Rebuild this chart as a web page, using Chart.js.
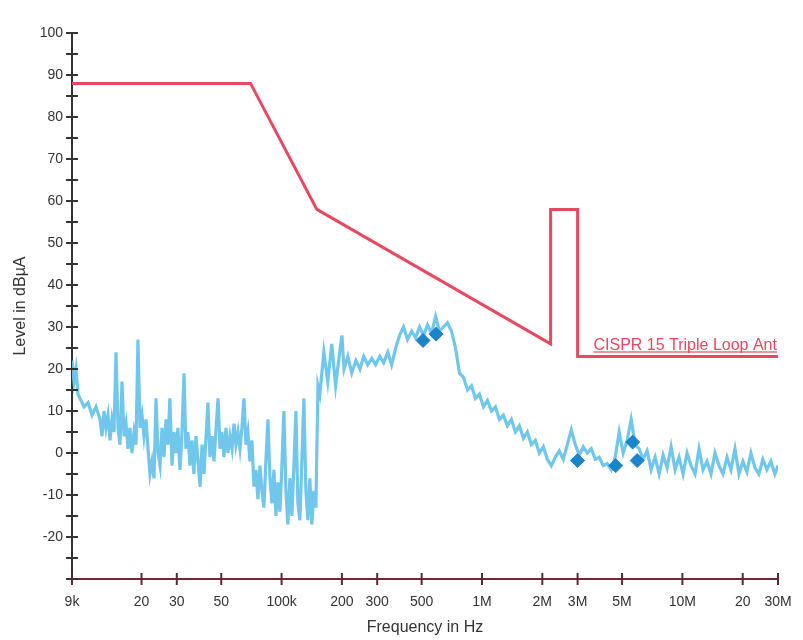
<!DOCTYPE html>
<html>
<head>
<meta charset="utf-8">
<script src="https://cdn.jsdelivr.net/npm/chart.js@4/dist/chart.umd.min.js"></script>
<style>
  html, body { margin: 0; padding: 0; background: #fff; }
  #wrap { width: 803px; height: 640px; }
</style>
</head>
<body>
<div id="wrap"><canvas id="emiChart" width="803" height="640"></canvas></div>
<script>

// x axis ticks (kHz)
let xTickValues = [9, 20, 30, 50, 100, 200, 300, 500, 1000, 2000, 3000, 5000, 10000, 20000, 30000];
let xTickLabels = ['9k', '20', '30', '50', '100k', '200', '300', '500', '1M', '2M', '3M', '5M', '10M', '20', '30M'];

// CISPR 15 limit (kHz / dBuA)
let limitFreq = [9, 70, 150, 2200, 2200, 3000, 3000, 30000];
let limitLevel = [88, 88, 58, 26, 58, 58, 23, 23];
let limitName = 'CISPR 15 Triple Loop Ant';

// measured trace (kHz / dBuA)
let traceFreq = [
  9, 9.21, 9.42, 9.64, 9.87, 10.33, 10.82, 11.33, 11.86, 12.42,
  12.71, 13.0, 13.3, 13.61, 13.93, 14.25, 14.58, 14.92, 15.27, 15.62,
  15.98, 16.36, 16.74, 17.13, 17.52, 17.93, 18.35, 18.78, 19.2, 19.66,
  20.12, 20.58, 21.06, 21.55, 22.05, 22.57, 23.09, 23.63, 24.18, 24.74,
  25.31, 25.9, 26.5, 27.12, 27.7, 28.4, 29.05, 29.7, 30.4, 31.1,
  31.8, 32.6, 33.3, 34.1, 34.9, 35.7, 36.5, 37.4, 38.3, 39.2,
  40.1, 41.0, 42.0, 42.9, 43.9, 45.0, 46.0, 47.1, 48.2, 49.3,
  50.4, 51.6, 52.8, 54.0, 55.3, 56.6, 57.9, 59.2, 60.6, 62.0,
  63.4, 64.9, 66.4, 67.9, 69.5, 71.1, 72.8, 74.5, 76.2, 78.0,
  79.8, 81.6, 83.5, 85.5, 87.5, 89.5, 91.6, 93.7, 95.9, 98.1,
  100.4, 102.7, 105.1, 107.5, 110.0, 112.6, 115.2, 117.9, 120.6, 123.4,
  126.2, 129.2, 132.2, 135.3, 138.4, 141.6, 144.9, 148.3, 151.9, 155.2,
  162.5, 170, 178, 186, 195, 200, 205, 214, 224, 235,
  246, 257, 269, 282, 295, 309, 323, 339, 354, 371,
  388, 406, 425, 446, 466, 488, 511, 535, 560, 587,
  614, 643, 673, 705, 738, 772, 809, 847, 886, 928,
  971, 1017, 1065, 1115, 1167, 1222, 1279, 1339, 1402, 1468,
  1537, 1609, 1684, 1763, 1846, 1933, 2024, 2119, 2218, 2322,
  2431, 2545, 2665, 2790, 2921, 3058, 3201, 3352, 3509, 3674,
  3846, 4027, 4216, 4413, 4621, 4838, 5065, 5302, 5551, 5812,
  6085, 6370, 6669, 6982, 7310, 7653, 8012, 8388, 8782, 9194,
  9625, 10077, 10550, 11045, 11563, 12106, 12674, 13269, 13892, 14544,
  15226, 15941, 16689, 17472, 18292, 19150, 20049, 20990, 21975, 23006,
  24086, 25216, 26400, 27638, 28935, 30000
];
let traceLevel = [
  22, 17, 20, 14, 13, 11, 12, 9, 11, 8,
  4, 10, 6, 9, 3, 8, 5, 24, 6, 2,
  17, 4, 7, 1, 6, 0, 5, 2, 27, 6,
  9, 4, 8, 1, -5, -2, -6, 13, 0, -3,
  6, -1, 8, 2, 13, -3, 5, 0, 6, -4,
  4, 19, 1, 5, -3, 3, -5, 4, -2, -8,
  2, -5, 4, 12, -1, 4, -2, 6, 13, 1,
  5, -1, 6, 0, 4, 1, 7, 2, 5, 1,
  6, 13, 2, 5, -2, 3, -8, -4, -11, -3,
  -9, -13, -2, 8, -6, -12, -4, -15, -7, -14,
  -3, 10, -9, -17, -6, -15, -3, 10, -12, -16,
  -2, 13, -9, -16, -6, -17, -9, -13, 16, 14,
  24, 17, 26, 16, 24, 28, 20, 23, 19, 22,
  20, 23, 21, 22.5, 21, 23, 21.5, 24, 21, 25,
  28, 30, 27, 29, 27.5, 30, 28, 30.5, 28.5, 32.5,
  29, 30, 31, 29, 25, 19, 18, 15, 16, 13,
  14, 11, 12.5, 10, 11, 8, 9, 6.5, 8, 5,
  6.5, 3.5, 5, 2, 3, 0, 1.5, -1.5, -3, -1,
  0.5, -1.5, 2, 5.5, 2, -0.5, 1.5, 0, 1, -1.5,
  -1, -3, -2.5, -4, -1, 5, 0, 3, 8, 2,
  1, -1.5, 0.5, -4, -1, -5, -0.5, -3.5, 1.5, -4,
  -1, -5, 0, -3, -5, 1, -4, -2, -5, 0,
  -3, -5, -1, -4, 1, -5, -2, -4.5, 0, -3.5,
  -5, -1.5, -4, -2, -5, -3
];

// final measurement markers
let markerFreq = [508, 590, 3000, 4650, 5650, 5950];
let markerLevel = [26.8, 28.3, -1.8, -3.0, 2.6, -1.8];

const limitColor = 'rgb(232, 72, 96)';
const traceColor = 'rgba(105, 196, 234, 0.95)';
const markerColor = 'rgb(28, 132, 200)';

Chart.defaults.font.family = '"Liberation Sans", Arial, sans-serif';
Chart.defaults.color = '#333';

// small ticks crossing both axes
const crossTicks = {
  id: 'crossTicks',
  afterDraw(chart) {
    const {ctx, scales: {x, y}} = chart;
    ctx.save();
    ctx.lineWidth = 2;
    ctx.strokeStyle = '#333';
    y.ticks.forEach(t => {
      const py = y.getPixelForValue(t.value);
      ctx.beginPath();
      ctx.moveTo(x.left - 6, py);
      ctx.lineTo(x.left + 6, py);
      ctx.stroke();
    });
    ctx.strokeStyle = '#5a2a33';
    x.ticks.forEach(t => {
      const px = x.getPixelForValue(t.value);
      ctx.beginPath();
      ctx.moveTo(px, y.bottom - 6);
      ctx.lineTo(px, y.bottom + 6);
      ctx.stroke();
    });
    ctx.restore();
  }
};

// limit name, underlined, sitting on the 3-30 MHz segment
const limitLabel = {
  id: 'limitLabel',
  afterDatasetsDraw(chart) {
    const {ctx, scales: {x, y}} = chart;
    const px = x.getPixelForValue(3600);
    const py = y.getPixelForValue(limitLevel[limitLevel.length - 1]);
    ctx.save();
    ctx.font = '16px "Liberation Sans", Arial, sans-serif';
    ctx.fillStyle = limitColor;
    ctx.textBaseline = 'alphabetic';
    ctx.fillText(limitName, px, py - 6);
    const w = ctx.measureText(limitName).width;
    ctx.fillRect(px, py - 5, w, 1.2);
    ctx.restore();
  }
};

const emiData = {
  datasets: [{
    label: 'Markers',
    data: markerFreq.map((f, i) => ({x: f, y: markerLevel[i]})),
    pointStyle: 'rectRot',
    pointRadius: 7,
    backgroundColor: markerColor,
    borderColor: markerColor,
    showLine: false,
    order: 0
  },
  {
    label: limitName,
    data: limitFreq.map((f, i) => ({x: f, y: limitLevel[i]})),
    borderColor: limitColor,
    borderWidth: 3,
    pointRadius: 0,
    showLine: true,
    tension: 0,
    order: 1
  },
  {
    label: 'Level',
    data: traceFreq.map((f, i) => ({x: f, y: traceLevel[i]})),
    borderColor: traceColor,
    borderWidth: 3.2,
    pointRadius: 0,
    showLine: true,
    tension: 0,
    order: 2
  }]
};

const emiConfig = {
  type: 'scatter',
  data: emiData,
  plugins: [crossTicks, limitLabel],
  options: {
    responsive: false,
    animation: false,
    layout: { padding: { left: 0, right: 25, top: 33, bottom: 0 } },
    plugins: {
      legend: { display: false },
      tooltip: { enabled: false }
    },
    scales: {
      x: {
        type: 'logarithmic',
        min: 9,
        max: 30000,
        afterBuildTicks: scale => {
          scale.ticks = xTickValues.map(v => ({value: v}));
        },
        afterFit: scale => {
          scale.height = 61;
          scale.paddingLeft = 0;
          scale.paddingRight = 0;
        },
        ticks: {
          autoSkip: false,
          maxRotation: 0,
          padding: 15,
          font: { size: 14 },
          color: '#333',
          callback: (v, i) => xTickLabels[i]
        },
        grid: { display: false, drawTicks: false },
        border: { display: true, color: '#6b2a38', width: 2 },
        title: {
          display: true,
          text: 'Frequency in Hz',
          font: { size: 16 },
          color: '#333',
          padding: { top: 0, bottom: 3 }
        }
      },
      y: {
        min: -30,
        max: 100,
        afterFit: scale => { scale.width = 72; },
        ticks: {
          stepSize: 5,
          padding: 9,
          font: { size: 14 },
          color: '#333',
          callback: v => (v % 10 === 0 && v > -30) ? v : ''
        },
        grid: { display: false, drawTicks: false },
        border: { display: true, color: '#333', width: 2 },
        title: {
          display: true,
          text: 'Level in dBµA',
          font: { size: 16 },
          color: '#333',
          padding: { top: 11, bottom: 0 }
        }
      }
    }
  }
};

let emiChart = new Chart(
  document.getElementById('emiChart'),
  emiConfig
);
</script>
</body>
</html>
